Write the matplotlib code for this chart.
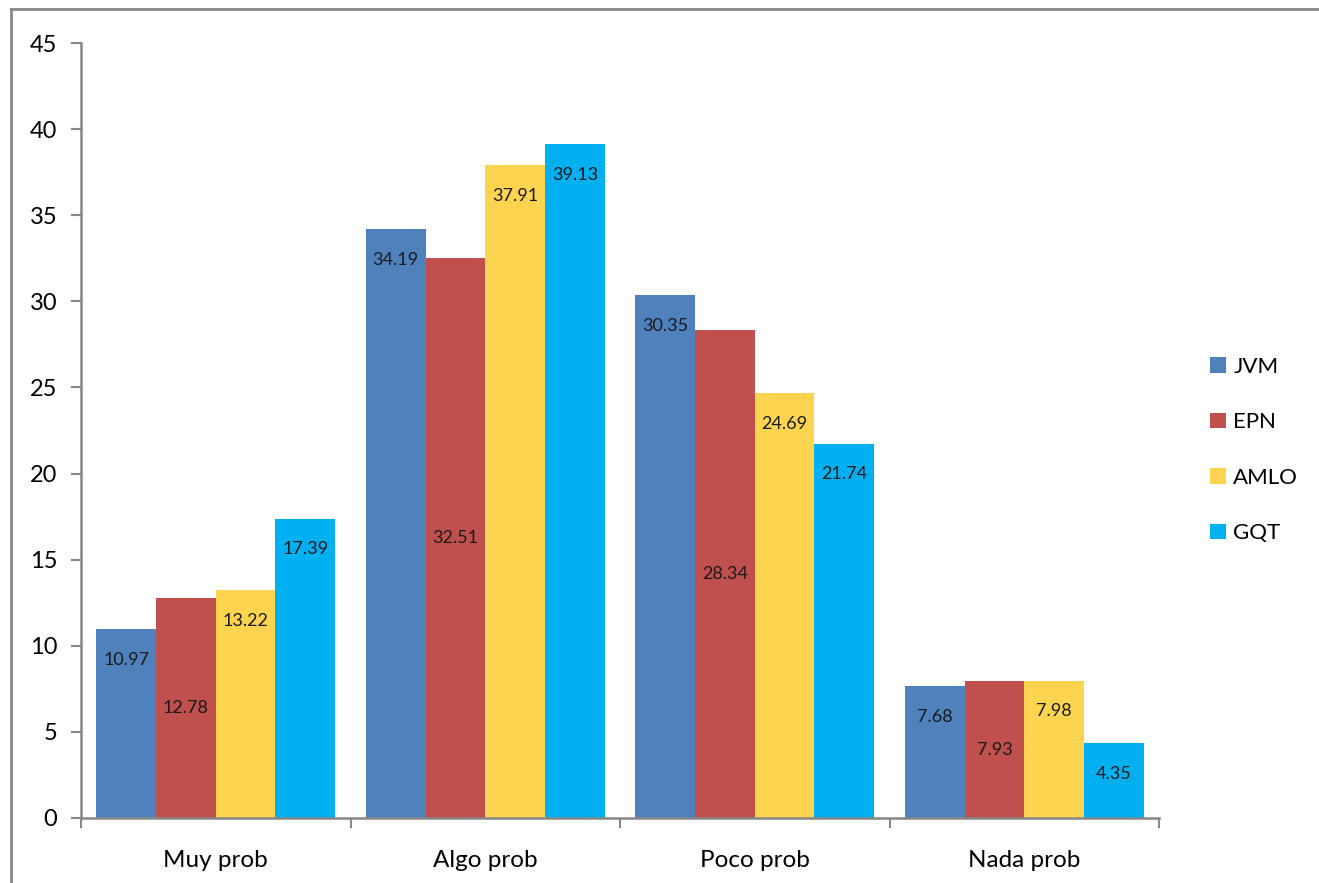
import matplotlib
matplotlib.use("Agg")
import matplotlib.pyplot as plt
import numpy as np
from matplotlib.patches import Patch
from matplotlib.lines import Line2D

categories = ["Muy prob", "Algo prob", "Poco prob", "Nada prob"]
series_names = ["JVM", "EPN", "AMLO", "GQT"]
jvm = [10.97, 34.19, 30.35, 7.68]
epn = [12.78, 32.51, 28.34, 7.93]
amlo = [13.22, 37.91, 24.69, 7.98]
gqt = [17.39, 39.13, 21.74, 4.35]
series = [jvm, epn, amlo, gqt]
colors = ["#4F81BD", "#C0504D", "#FDD450", "#00B0F0"]
label_mode = ["end", "center", "end", "end"]
yticks = [0, 5, 10, 15, 20, 25, 30, 35, 40, 45]

plt.rcParams['font.family'] = ['Lato', 'DejaVu Sans']
axis_gray = "#878787"

fig = plt.figure(figsize=(13.19, 8.83), dpi=100)
ax = fig.add_axes([81/1319, 65/883, (1159-81)/1319, (818-43)/883])

x = np.arange(len(categories))
bw = 0.2216
for i, (vals, col) in enumerate(zip(series, colors)):
    xs = x + (i - 1.5) * bw
    bars = ax.bar(xs, vals, width=bw, color=col, edgecolor='none', zorder=2)
    if label_mode[i] == "center":
        ax.bar_label(bars, labels=[f"{v:.2f}" for v in vals], label_type='center',
                     fontsize=13, color='#1a1a1a')
    else:
        ax.bar_label(bars, labels=[f"{v:.2f}" for v in vals], label_type='edge',
                     padding=-28, fontsize=13, color='#1a1a1a')

ax.set_xlim(-0.5, len(categories) - 0.5)
ax.set_ylim(0, 45)
ax.set_yticks(yticks)
ax.set_yticklabels([str(t) for t in yticks], fontsize=17)
ax.tick_params(axis='y', direction='out', length=7, width=1.5, color=axis_gray, pad=10)

ax.set_xticks(x)
ax.set_xticklabels(categories, fontsize=17.5)
ax.tick_params(axis='x', which='major', length=0, pad=23)
ax.set_xticks(np.arange(len(categories) + 1) - 0.5, minor=True)
ax.tick_params(axis='x', which='minor', direction='out', length=7, width=1.5, color=axis_gray)

for s in ['top', 'right']:
    ax.spines[s].set_visible(False)
for s in ['left', 'bottom']:
    ax.spines[s].set_color(axis_gray)
    ax.spines[s].set_linewidth(1.8)

handles = [Patch(facecolor=c, edgecolor='none') for c in colors]
leg = fig.legend(handles, series_names, loc='center left', bbox_to_anchor=(1190/1319, 1 - 450/883),
                 frameon=False, fontsize=16, handlelength=0.7, handleheight=0.7,
                 handletextpad=0.35, labelspacing=1.6)

# figure frame (top and left only)
fig.add_artist(Line2D([11/1319, 1], [1 - 9/883, 1 - 9/883], transform=fig.transFigure,
                      color=axis_gray, linewidth=2))
fig.add_artist(Line2D([11/1319, 11/1319], [0, 1 - 9/883], transform=fig.transFigure,
                      color=axis_gray, linewidth=2))

fig.savefig("out.png", dpi=100)
